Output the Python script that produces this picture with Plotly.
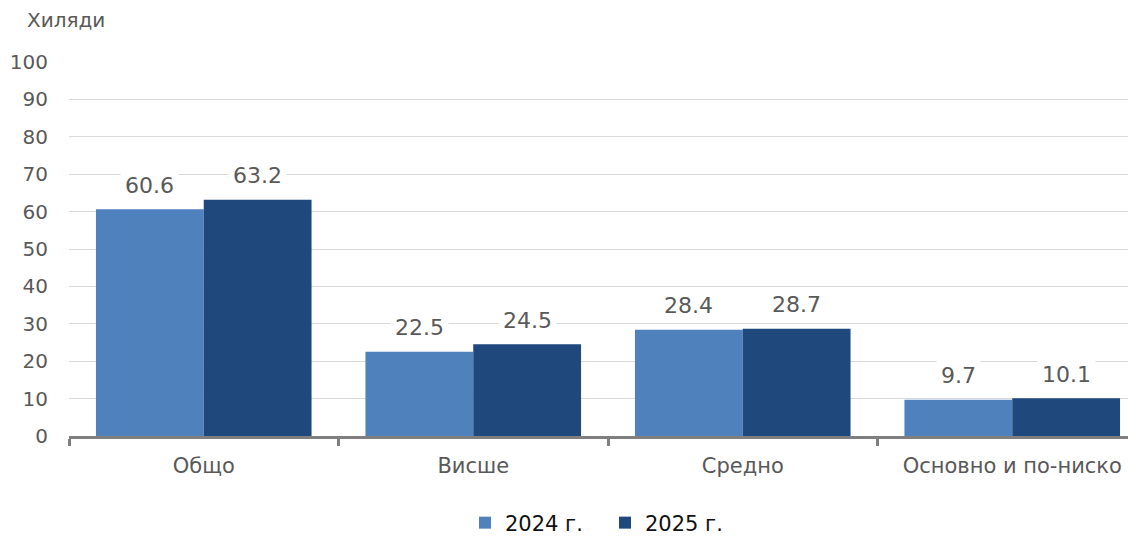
import plotly.graph_objects as go

categories = ["Общо", "Висше", "Средно", "Основно и по-ниско"]
values_2024 = [60.6, 22.5, 28.4, 9.7]
values_2025 = [63.2, 24.5, 28.7, 10.1]
series_names = ["2024 г.", "2025 г."]
y_ticks = [0, 10, 20, 30, 40, 50, 60, 70, 80, 90, 100]

colors = ["#4F81BD", "#1F497D"]
FONT = "DejaVu Sans"
GREY = "#595959"

# page body has an 8px margin; figure coordinates = screen - 8
OFF = 8
W, H = 1152 - OFF, 537 - OFF
L, T, R, B = 69 - OFF, 62 - OFF, 1147 - OFF, 436 - OFF
PW, PH = R - L, B - T

fig = go.Figure()
for name, vals, col in zip(series_names, [values_2024, values_2025], colors):
    fig.add_trace(go.Bar(
        x=categories, y=vals, name=name,
        marker=dict(color=col, line=dict(width=0)),
        offsetgroup=name,
    ))

for i, vals in enumerate([values_2024, values_2025]):
    for j, v in enumerate(vals):
        fig.add_annotation(
            x=categories[j], y=v, xref="x", yref="y",
            text=f"{v:.1f}", showarrow=False,
            xshift=(-54 if i == 0 else 54),
            yshift=24, yanchor="middle",
            font=dict(family=FONT, size=22, color=GREY),
            bgcolor="white", borderpad=4,
        )

fig.add_annotation(
    x=(25 - OFF - L) / PW, y=(B - (20 - OFF)) / PH, xref="paper", yref="paper",
    text="Хиляди", showarrow=False, xanchor="left", yanchor="middle",
    font=dict(family=FONT, size=20, color=GREY),
)

fig.update_layout(
    width=W, height=H,
    margin=dict(l=L, r=W - R, t=T, b=H - B, autoexpand=False),
    paper_bgcolor="white", plot_bgcolor="white",
    barmode="group", bargap=0.2, bargroupgap=0,
    font=dict(family=FONT, size=20, color=GREY),
    legend=dict(
        orientation="h", x=(465 - OFF - L) / PW, xanchor="left",
        y=(B - (523 - OFF)) / PH, yanchor="middle",
        font=dict(family=FONT, size=21, color="#111111"),
        itemwidth=30, traceorder="normal", entrywidth=95,
    ),
    showlegend=True,
)
fig.update_xaxes(
    type="category", tickson="boundaries",
    showline=True, linecolor="#7f7f7f", linewidth=3,
    ticks="outside", ticklen=7, tickwidth=3, tickcolor="#7f7f7f",
    tickfont=dict(family=FONT, size=21, color=GREY),
    ticklabelstandoff=9,
    showgrid=False, zeroline=False, automargin=False,
)
fig.update_yaxes(
    range=[0, 100], tickvals=y_ticks,
    showgrid=True, gridcolor="#d9d9d9", gridwidth=1,
    showline=False, zeroline=False, ticks="",
    tickfont=dict(family=FONT, size=20, color=GREY),
    ticklabelstandoff=20, automargin=False,
)

fig.write_html("out.html")
